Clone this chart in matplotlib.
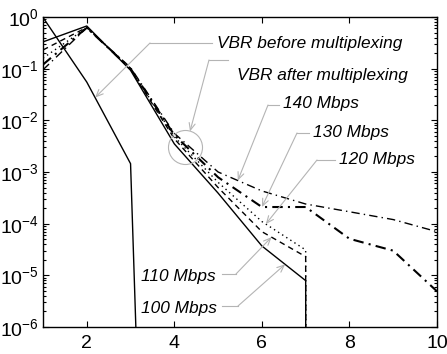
import numpy as np
import matplotlib
matplotlib.use("Agg")
import matplotlib.pyplot as plt
from matplotlib.ticker import FixedLocator, NullFormatter, LogFormatterSciNotation

plt.rcParams['font.family'] = ['Liberation Sans', 'DejaVu Sans']
plt.rcParams['mathtext.fontset'] = 'custom'
plt.rcParams['mathtext.rm'] = 'Liberation Sans'

# Queue-length probability distributions
x = [1, 2, 3, 4, 5, 6, 7, 8, 9, 10]
vbr_before = [0.98, 0.055, 1.45e-3, 1e-29, 0, 0, 0, 0, 0, 0]
mbps_100 = [0.33, 0.67, 0.093, 3.5e-3, 3.9e-4, 3.7e-5, 7.9e-6, 0, 0, 0]
mbps_110 = [0.23, 0.63, 0.097, 4.4e-3, 5.0e-4, 7.0e-5, 2.3e-5, 0, 0, 0]
mbps_120 = [0.16, 0.62, 0.10, 4.8e-3, 6.3e-4, 1.1e-4, 3.1e-5, 0, 0, 0]
mbps_130 = [0.12, 0.62, 0.10, 5.2e-3, 7.9e-4, 2.1e-4, 2.1e-4, 5.1e-5, 3.0e-5, 4.9e-6]
mbps_140 = [0.095, 0.62, 0.105, 5.6e-3, 1.0e-3, 4.3e-4, 2.4e-4, 1.7e-4, 1.2e-4, 7.0e-5]

x_ticks = [2, 4, 6, 8, 10]
y_ticks = [1e-6, 1e-5, 1e-4, 1e-3, 1e-2, 1e-1, 1e0]
labels = ["VBR before multiplexing", "VBR after multiplexing",
          "140 Mbps", "130 Mbps", "120 Mbps", "110 Mbps", "100 Mbps"]

fig = plt.figure(figsize=(4.47, 3.54), dpi=100)
ax = fig.add_axes([43/447, 27/354, 394/447, 310/354])
ax.set_yscale('log', nonpositive='clip')

lw = 1.0
ax.plot(x, vbr_before, color='k', lw=lw, ls='-')
ax.plot(x, mbps_100, color='k', lw=lw, ls='-')
ax.plot(x, mbps_110, color='k', lw=lw, ls=(0, (4, 3)))
ax.plot(x, mbps_120, color='k', lw=lw, ls=(0, (1, 2.5)))
ax.plot(x, mbps_130, color='k', lw=1.5, ls=(0, (5, 2.5, 1, 2.5)))
ax.plot(x, mbps_140, color='k', lw=lw, ls=(0, (6, 3, 1, 3)))

ax.set_xlim(1, 10)
ax.set_ylim(1e-6, 1e0)
ax.xaxis.set_major_locator(FixedLocator(x_ticks))
ax.yaxis.set_major_locator(FixedLocator(y_ticks))
ax.yaxis.set_major_formatter(LogFormatterSciNotation())
minor = [m * d for d in y_ticks[:-1] for m in range(2, 10)]
ax.yaxis.set_minor_locator(FixedLocator(minor))
ax.yaxis.set_minor_formatter(NullFormatter())
ax.tick_params(which='both', direction='in', top=True, right=True,
               labelsize=14, width=0.8, color='k')
ax.tick_params(which='major', length=4)
ax.tick_params(axis='x', which='major', pad=6)
ax.tick_params(axis='y', which='major', pad=3)
ax.tick_params(which='minor', length=2)
for s in ax.spines.values():
    s.set_linewidth(1.0)

gray = '#b4b4b4'
tfont = dict(fontsize=12.4, style='italic', va='baseline', ha='left', color='k')


def on_curve(xs, ys, xq):
    return 10 ** np.interp(xq, xs, np.log10(np.maximum(ys, 1e-300)))


def callout(start, elbow, tip, tip_coords='data'):
    ax.plot([start[0], elbow[0]], [start[1], elbow[1]], color=gray, lw=0.8,
            transform=ax.transAxes, clip_on=False)
    ax.annotate('', xy=tip, xycoords=tip_coords, xytext=elbow,
                textcoords='axes fraction',
                arrowprops=dict(arrowstyle='->,head_length=0.5,head_width=0.22',
                                color=gray, lw=0.8, shrinkA=0, shrinkB=0))


# Circle around the multiplexed bundle
ax.plot([4.24], [3.0e-3], marker='o', ms=24.5, mfc='none', mec=gray, mew=0.8)

text_pos = [(0.4416, 0.900), (0.4924, 0.797), (0.6091, 0.7065), (0.6853, 0.613),
            (0.7513, 0.526), (0.2487, 0.148), (0.2487, 0.045)]
for lab, (tx, ty) in zip(labels, text_pos):
    ax.text(tx, ty, lab, transform=ax.transAxes, **tfont)

callout((0.4289, 0.9161), (0.2716, 0.9161), (2.19, on_curve(x, vbr_before, 2.19)))
callout((0.4695, 0.8613), (0.4213, 0.8613), (0.3731, 0.631), 'axes fraction')
callout((0.599, 0.7161), (0.5711, 0.7161), (5.45, on_curve(x, mbps_140, 5.45)))
callout((0.6751, 0.6258), (0.6447, 0.6258), (6.0, on_curve(x, mbps_130, 6.0)))
callout((0.7411, 0.5387), (0.6954, 0.5387), (6.09, on_curve(x, mbps_120, 6.09)))
callout((0.4543, 0.171), (0.4898, 0.171), (6.22, on_curve(x, mbps_110, 6.22)))
callout((0.4543, 0.0677), (0.4949, 0.0677), (6.53, on_curve(x, mbps_100, 6.53)))

fig.savefig('out.png', dpi=100)
